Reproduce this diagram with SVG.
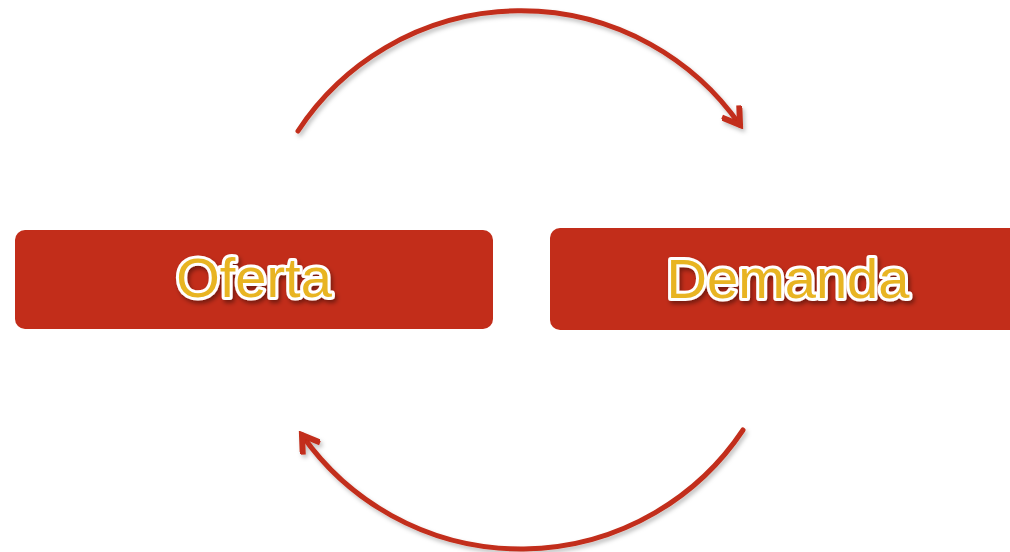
<svg xmlns="http://www.w3.org/2000/svg" width="1010" height="552" viewBox="0 0 1010 552">
<defs>
<style>
.box{fill:#C22D1A;}
.lbl{font-family:"Liberation Sans",Arial,sans-serif;font-weight:normal;font-size:56px;fill:#E8B420;stroke:#FFFFFF;stroke-width:6;stroke-linejoin:round;paint-order:stroke;text-anchor:middle;filter:url(#tsh);}
.arc{fill:none;stroke:#C22D1A;stroke-width:5;stroke-linecap:round;filter:url(#ash);}
</style>
<filter id="tsh" x="-10%" y="-20%" width="130%" height="150%">
<feDropShadow dx="2" dy="3" stdDeviation="2" flood-color="#000" flood-opacity="0.4"/>
</filter>
<filter id="ash" x="-10%" y="-10%" width="120%" height="130%">
<feDropShadow dx="2" dy="3" stdDeviation="2" flood-color="#000" flood-opacity="0.25"/>
</filter>
<marker id="ah" viewBox="0 0 24 24" refX="19" refY="12" markerWidth="24" markerHeight="24" markerUnits="userSpaceOnUse" orient="auto">
<path d="M5,3 L19,12 L5,21" fill="none" stroke="#C22D1A" stroke-width="6" stroke-linecap="square" stroke-linejoin="miter"/>
</marker>
</defs>
<g id="connectors">
<path class="arc" d="M298,131 A267,267 0 0 1 740,125" marker-end="url(#ah)"/>
<path class="arc" d="M743,430 A267,267 0 0 1 302,435" marker-end="url(#ah)"/>
</g>
<g id="oferta">
<rect class="box" x="15" y="230" width="478" height="99" rx="10"/>
<text class="lbl" x="254" y="297">Oferta</text>
</g>
<g id="demanda">
<rect class="box" x="550" y="228" width="480" height="102" rx="10"/>
<text class="lbl" x="788" y="298">Demanda</text>
</g>
</svg>
